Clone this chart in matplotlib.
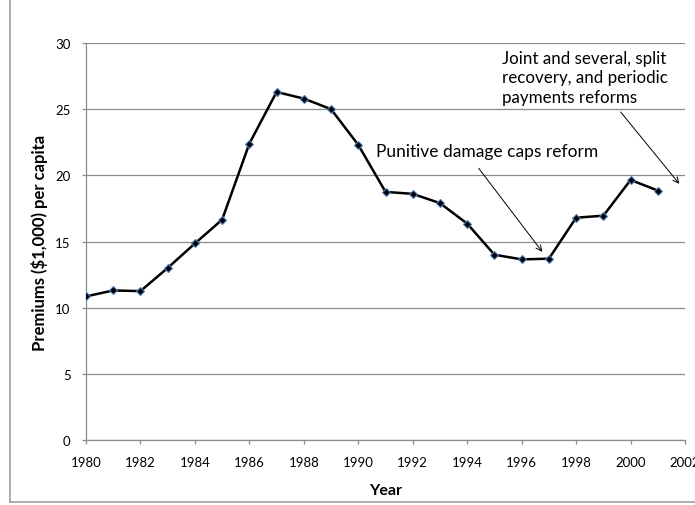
import matplotlib
matplotlib.use("Agg")
import matplotlib.pyplot as plt
from matplotlib.lines import Line2D

plt.rcParams['font.family'] = ['Lato', 'DejaVu Sans']

# data
years = [1980, 1981, 1982, 1983, 1984, 1985, 1986, 1987, 1988, 1989, 1990,
         1991, 1992, 1993, 1994, 1995, 1996, 1997, 1998, 1999, 2000, 2001]
premiums = [10.85, 11.3, 11.25, 13.0, 14.85, 16.65, 22.4, 26.3, 25.8, 25.0, 22.3,
            18.75, 18.6, 17.9, 16.35, 14.0, 13.65, 13.7, 16.8, 16.95, 19.65, 18.85]
x_ticks = list(range(1980, 2003, 2))
y_ticks = [0, 5, 10, 15, 20, 25, 30]

note1 = "Punitive damage caps reform"
note2 = "Joint and several, split\nrecovery, and periodic\npayments reforms"

fig = plt.figure(figsize=(6.95, 5.06), dpi=100)
ax = fig.add_axes([0.1237, 0.1285, 0.862, 0.7845])

ax.plot(years, premiums, color='black', lw=1.8, zorder=3,
        marker='D', markersize=4, markerfacecolor='black',
        markeredgecolor='#4f81bd', markeredgewidth=0.8)

ax.set_xlim(1980, 2002)
ax.set_ylim(0, 30)
ax.set_xticks(x_ticks)
ax.set_yticks(y_ticks)
ax.grid(axis='y', color='#8c8c8c', lw=0.9)
ax.set_axisbelow(True)

for s in ['top', 'right']:
    ax.spines[s].set_visible(False)
for s in ['left', 'bottom']:
    ax.spines[s].set_color('#8c8c8c')
    ax.spines[s].set_linewidth(0.9)

ax.tick_params(axis='both', colors='#8c8c8c', labelcolor='black', labelsize=9.5,
               length=3, width=0.9)
ax.tick_params(axis='y', pad=8)
ax.tick_params(axis='x', pad=8.5)

ax.set_xlabel('Year', fontsize=11.5, fontweight='bold', labelpad=11)
ax.set_ylabel('Premiums ($1,000) per capita', fontsize=12, fontweight='bold', labelpad=5)

# annotations
ax.text(1990.65, 21.85, note1, fontsize=12.5, va='center', ha='left')
ax.annotate('', xy=(1996.82, 14.05), xytext=(1994.36, 20.7),
            arrowprops=dict(arrowstyle='->', color='black', lw=0.7))

ax.text(1995.28, 27.4, note2, fontsize=12.2, va='center', ha='left', linespacing=1.25)
ax.annotate('', xy=(2001.85, 19.2), xytext=(1999.57, 24.95),
            arrowprops=dict(arrowstyle='->', color='black', lw=0.7))

# chart area border (cropped on top and right)
fig.add_artist(Line2D([10 / 695, 10 / 695], [3 / 506, 1.0], transform=fig.transFigure,
                      color='#a0a0a0', lw=1.2))
fig.add_artist(Line2D([10 / 695, 1.0], [3 / 506, 3 / 506], transform=fig.transFigure,
                      color='#a0a0a0', lw=1.2))

fig.savefig('out.png', dpi=100)
